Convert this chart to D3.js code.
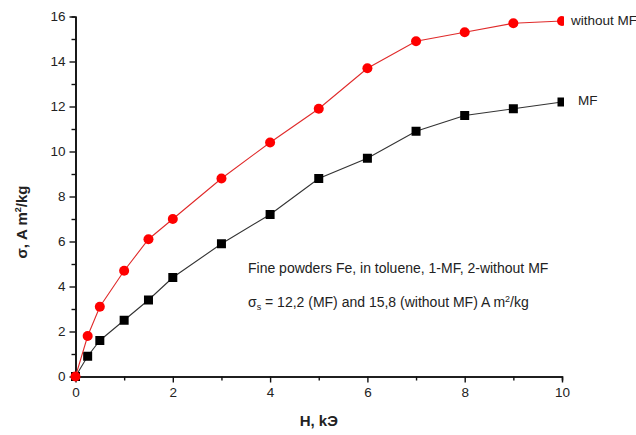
<!DOCTYPE html>
<html>
<head>
<meta charset="utf-8">
<script src="https://cdn.jsdelivr.net/npm/d3@7"></script>
<style>
	body { margin: 0; background: #fff; }
	text { font-family: "Liberation Sans", Arial, sans-serif; fill: #222; }
	.tick text { font-size: 13.5px; }
</style>
</head>
<body>
<div id="chart"></div>
<script>
// data
const field = [0, 0.25, 0.5, 1, 1.5, 2, 3, 4, 5, 6, 7, 8, 9, 10];
const withoutMF = [0, 1.8, 3.1, 4.7, 6.1, 7.0, 8.8, 10.4, 11.9, 13.7, 14.9, 15.3, 15.7, 15.8];
const withMF = [0, 0.9, 1.6, 2.5, 3.4, 4.4, 5.9, 7.2, 8.8, 9.7, 10.9, 11.6, 11.9, 12.2];
const xTicks = [0, 2, 4, 6, 8, 10];
const yTicks = [0, 2, 4, 6, 8, 10, 12, 14, 16];

// set up
const w = 636;
const h = 435;
const m = {top: 16.5, right: 74, bottom: 58.5, left: 75.5};

const x = d3.scaleLinear().domain([0, 10]).range([m.left, w - m.right]);
const y = d3.scaleLinear().domain([0, 16]).range([h - m.bottom, m.top]);

const svg = d3.select("#chart")
	.append("svg")
	.attr("width", w)
	.attr("height", h);

// clip so the last markers get cut a bit like the original
svg.append("clipPath")
	.attr("id", "plotclip")
	.append("rect")
	.attr("x", m.left - 10)
	.attr("y", 0)
	.attr("width", x(10) - m.left + 12)
	.attr("height", h - m.bottom + 10);

// axes
const xAxis = svg.append("g")
	.attr("transform", `translate(0,${y(0)})`)
	.call(d3.axisBottom(x).tickValues(xTicks).tickSize(6).tickPadding(5).tickSizeOuter(0));
xAxis.append("g")
	.call(d3.axisBottom(x).tickValues(d3.range(1, 10, 2)).tickSize(4).tickFormat(""));

const yAxis = svg.append("g")
	.attr("transform", `translate(${x(0)},0)`)
	.call(d3.axisLeft(y).tickValues(yTicks).tickSize(6).tickPadding(4).tickSizeOuter(0));
yAxis.append("g")
	.call(d3.axisLeft(y).tickValues(d3.range(1, 16, 2)).tickSize(4).tickFormat(""));

svg.selectAll(".domain").attr("stroke", "#111").attr("stroke-width", 1.6);
svg.selectAll(".tick line").attr("stroke", "#111").attr("stroke-width", 1.4);
svg.selectAll(".tick text").attr("fill", "#222");

// axis titles
svg.append("text")
	.attr("x", x(5))
	.attr("y", 426)
	.attr("text-anchor", "middle")
	.attr("font-size", 15)
	.attr("font-weight", "bold")
	.text("H, kЭ");

const yt = svg.append("text")
	.attr("transform", `translate(27,222) rotate(-90)`)
	.attr("text-anchor", "middle")
	.attr("font-size", 15)
	.attr("font-weight", "bold");
yt.append("tspan").text("σ, A m");
yt.append("tspan").attr("font-size", 9).attr("dy", -6).text("2");
yt.append("tspan").attr("dy", 6).text("/kg");

// lines and markers
const plot = svg.append("g").attr("clip-path", "url(#plotclip)");

const series = [
	{name: "MF", vals: withMF, color: "#000", line: "#333", shape: "square"},
	{name: "without MF", vals: withoutMF, color: "#f00", line: "#e02a2a", shape: "circle"}
];

const line = d3.line()
	.x((d, i) => x(field[i]))
	.y(d => y(d));

series.forEach(s => {
	plot.append("path")
		.datum(s.vals)
		.attr("fill", "none")
		.attr("stroke", s.line)
		.attr("stroke-width", 1.1)
		.attr("d", line);

	if (s.shape === "circle") {
		plot.selectAll(".dot-c")
			.data(s.vals)
			.enter()
			.append("circle")
			.attr("cx", (d, i) => x(field[i]))
			.attr("cy", d => y(d))
			.attr("r", 5)
			.attr("fill", s.color);
	} else {
		plot.selectAll(".dot-s")
			.data(s.vals)
			.enter()
			.append("rect")
			.attr("x", (d, i) => x(field[i]) - 4.5)
			.attr("y", d => y(d) - 4.5)
			.attr("width", 9)
			.attr("height", 9)
			.attr("fill", s.color);
	}
});

// series labels
svg.append("text")
	.attr("x", x(10) + 9)
	.attr("y", y(withoutMF[withoutMF.length - 1]) + 4)
	.attr("font-size", 13.5)
	.text("without MF");

svg.append("text")
	.attr("x", x(10) + 16)
	.attr("y", y(withMF[withMF.length - 1]) + 3)
	.attr("font-size", 13.5)
	.text("MF");

// note
svg.append("text")
	.attr("x", 248)
	.attr("y", 273)
	.attr("font-size", 14)
	.text("Fine powders Fe, in toluene, 1-MF, 2-without MF");

const note = svg.append("text")
	.attr("x", 248)
	.attr("y", 307)
	.attr("font-size", 14);
note.append("tspan").text("σ");
note.append("tspan").attr("font-size", 9).attr("dy", 3).text("s");
note.append("tspan").attr("dy", -3).text(" = 12,2 (MF) and 15,8 (without MF) A m");
note.append("tspan").attr("font-size", 9).attr("dy", -5).text("2");
note.append("tspan").attr("dy", 5).text("/kg");
</script>
</body>
</html>
